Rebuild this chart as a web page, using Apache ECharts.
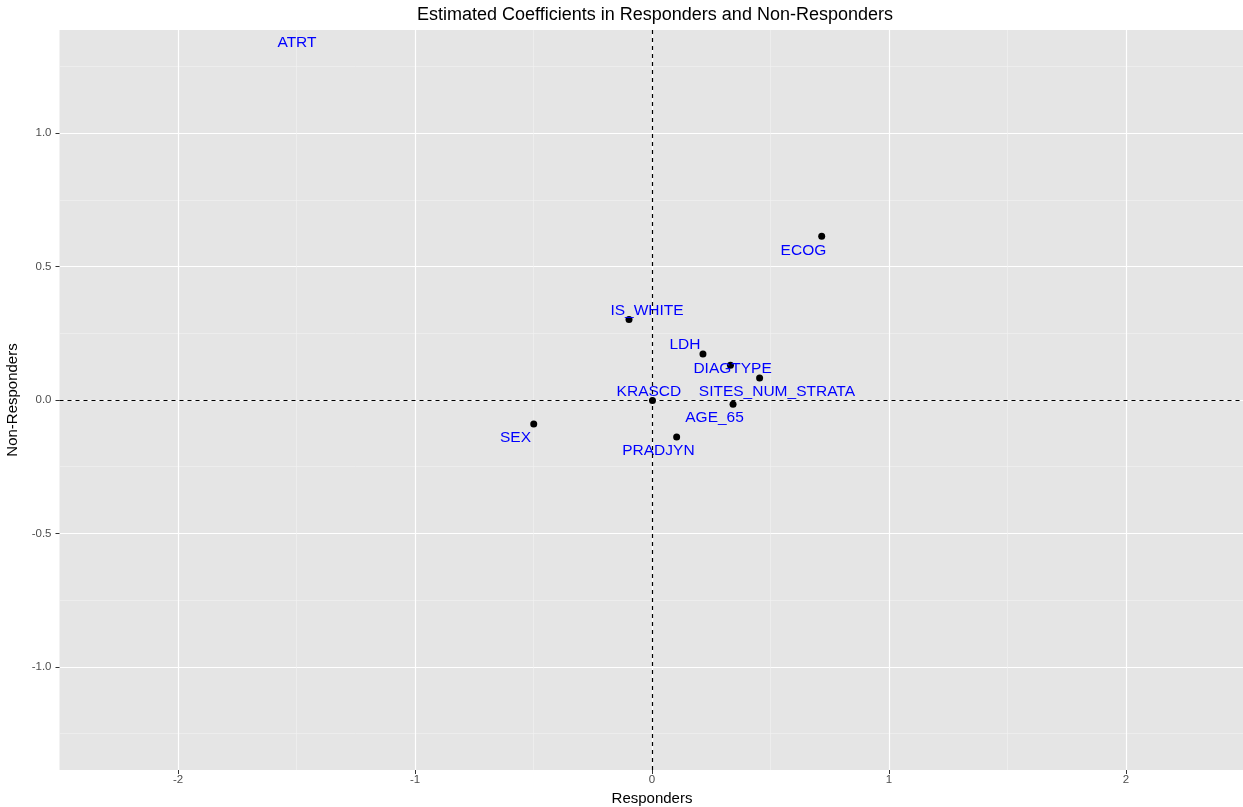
<!DOCTYPE html>
<html><head><meta charset="utf-8">
<script src="https://cdn.jsdelivr.net/npm/echarts@6/dist/echarts.min.js"></script>
<style>html,body{margin:0;padding:0;background:#fff}#c{width:1243px;height:807px}</style>
</head><body><div id="c"></div>
<script>
// ---- data ----
const names = ['ATRT','ECOG','IS_WHITE','LDH','DIAGTYPE','SITES_NUM_STRATA','KRASCD','AGE_65','PRADJYN','SEX'];
const responders    = [-1.500, 0.716, -0.097, 0.215, 0.331, 0.454, 0.002, 0.342, 0.104, -0.499];
const nonResponders = [ 1.392, 0.613,  0.302, 0.172, 0.130, 0.082, -0.002, -0.016, -0.139, -0.090];
// text label anchor positions (data units, jittered as in the reference)
const labelX = [-1.498, 0.639, -0.021, 0.139, 0.340, 0.527, -0.013, 0.264, 0.027, -0.576];
const labelY = [ 1.345, 0.566,  0.341, 0.213, 0.124, 0.037,  0.037, -0.060, -0.184, -0.135];
const xTickValues = [-2, -1, 0, 1, 2];
const xTickLabels = ['-2', '-1', '0', '1', '2'];
const yTickValues = [-1, -0.5, 0, 0.5, 1];
const yTickLabels = ['-1.0', '-0.5', '0.0', '0.5', '1.0'];
const xLimits = [-2.5, 2.5];
const yLimits = [-1.386, 1.386];
const yMinor = [-1.25, 1.25];

// ---- layout ----
const FONT = 'Liberation Sans, Arial, Helvetica, sans-serif';
const P = { left: 59.5, top: 30, width: 1185, height: 740 };
const pxX = P.width / (xLimits[1] - xLimits[0]);
const pxY = P.height / (yLimits[1] - yLimits[0]);
const xOf = v => P.left + (v - xLimits[0]) * pxX;
const yOf = v => P.top + (yLimits[1] - v) * pxY;

const chart = echarts.init(document.getElementById('c'), null, { renderer: 'canvas' });

const hiddenAxis = (gi, min, max) => ({ gridIndex: gi, type: 'value', min, max, show: false });

const option = {
  animation: false,
  backgroundColor: '#ffffff',
  textStyle: { fontFamily: FONT },
  title: {
    text: 'Estimated Coefficients in Responders and Non-Responders',
    left: 650, top: 1, textAlign: 'center',
    textStyle: { fontFamily: FONT, fontSize: 18, fontWeight: 'normal', color: '#000' }
  },
  grid: [
    { left: P.left, top: P.top, width: P.width, height: P.height, show: true,
      backgroundColor: '#E5E5E5', borderWidth: 0, containLabel: false, outerBoundsMode: 'none' },
    { left: xOf(xTickValues[0]), width: xOf(xTickValues[xTickValues.length-1]) - xOf(xTickValues[0]),
      top: P.top, height: P.height, show: false, containLabel: false, outerBoundsMode: 'none' },
    { left: P.left, width: P.width, top: yOf(yTickValues[yTickValues.length-1]),
      height: yOf(yTickValues[0]) - yOf(yTickValues[yTickValues.length-1]),
      show: false, containLabel: false, outerBoundsMode: 'none' },
    { left: P.left, width: P.width, top: yOf(yMinor[1]), height: yOf(yMinor[0]) - yOf(yMinor[1]),
      show: false, containLabel: false, outerBoundsMode: 'none' }
  ],
  xAxis: [
    { gridIndex: 0, type: 'value', min: xLimits[0], max: xLimits[1], interval: 1,
      axisLine: { show: false }, axisTick: { show: false }, axisLabel: { show: false },
      splitLine: { show: true, lineStyle: { color: '#F2F2F2', width: 0.6 } } },
    { gridIndex: 1, type: 'value', min: xTickValues[0], max: xTickValues[xTickValues.length-1], interval: 1,
      axisLine: { show: false },
      axisTick: { show: true, length: 4, lineStyle: { color: '#333333', width: 1 } },
      axisLabel: { show: true, margin: 4, fontSize: 11.5, color: '#4D4D4D', fontFamily: FONT,
        formatter: v => { const i = xTickValues.indexOf(v); return i >= 0 ? xTickLabels[i] : ''; } },
      splitLine: { show: true, lineStyle: { color: '#FFFFFF', width: 1.2 } },
      name: 'Responders', nameLocation: 'middle', nameGap: 21,
      nameTextStyle: { fontSize: 15, color: '#000', fontFamily: FONT } },
    hiddenAxis(2, 0, 1),
    hiddenAxis(3, 0, 1)
  ],
  yAxis: [
    { gridIndex: 0, type: 'value', min: yLimits[0], max: yLimits[1],
      axisLine: { show: false }, axisTick: { show: false }, axisLabel: { show: false },
      splitLine: { show: false } },
    hiddenAxis(1, 0, 1),
    { gridIndex: 2, type: 'value', min: yTickValues[0], max: yTickValues[yTickValues.length-1], interval: 0.5,
      axisLine: { show: false },
      axisTick: { show: true, length: 4, lineStyle: { color: '#333333', width: 1 } },
      axisLabel: { show: true, margin: 8, fontSize: 11.5, color: '#4D4D4D', fontFamily: FONT,
        formatter: v => { const i = yTickValues.findIndex(t => Math.abs(t - v) < 1e-9); return i >= 0 ? yTickLabels[i] : ''; } },
      splitLine: { show: true, lineStyle: { color: '#FFFFFF', width: 1.2 } },
      name: 'Non-Responders', nameLocation: 'middle', nameGap: 34, nameRotate: 90,
      nameTextStyle: { fontSize: 15, color: '#000', fontFamily: FONT } },
    { gridIndex: 3, type: 'value', min: yMinor[0], max: yMinor[1], interval: 0.5,
      axisLine: { show: false }, axisTick: { show: false }, axisLabel: { show: false },
      splitLine: { show: true, lineStyle: { color: '#F2F2F2', width: 0.6 } } }
  ],
  series: [
    {
      type: 'scatter', xAxisIndex: 0, yAxisIndex: 0, clip: true, z: 3,
      symbol: 'circle', symbolSize: 7,
      itemStyle: { color: '#000000', opacity: 1 },
      data: names.map((n, i) => ({ name: n, value: [responders[i], nonResponders[i]] })),
      markLine: {
        silent: true, symbol: ['none', 'none'], label: { show: false },
        lineStyle: { color: '#000000', type: [4, 4], width: 1.2, opacity: 1 },
        data: [{ xAxis: 0 }, { yAxis: 0 }]
      }
    },
    {
      type: 'scatter', xAxisIndex: 0, yAxisIndex: 0, clip: false, z: 4,
      symbolSize: 0, silent: true,
      itemStyle: { color: '#0000FF', opacity: 1 },
      label: { show: true, position: 'inside', offset: [0, 1.5], formatter: p => p.name,
        color: '#0000FF', fontSize: 15.5, fontFamily: FONT, textBorderWidth: 0, opacity: 1 },
      data: names.map((n, i) => ({ name: n, value: [labelX[i], labelY[i]] }))
    }
  ]
};
chart.setOption(option);
</script>
</body></html>
